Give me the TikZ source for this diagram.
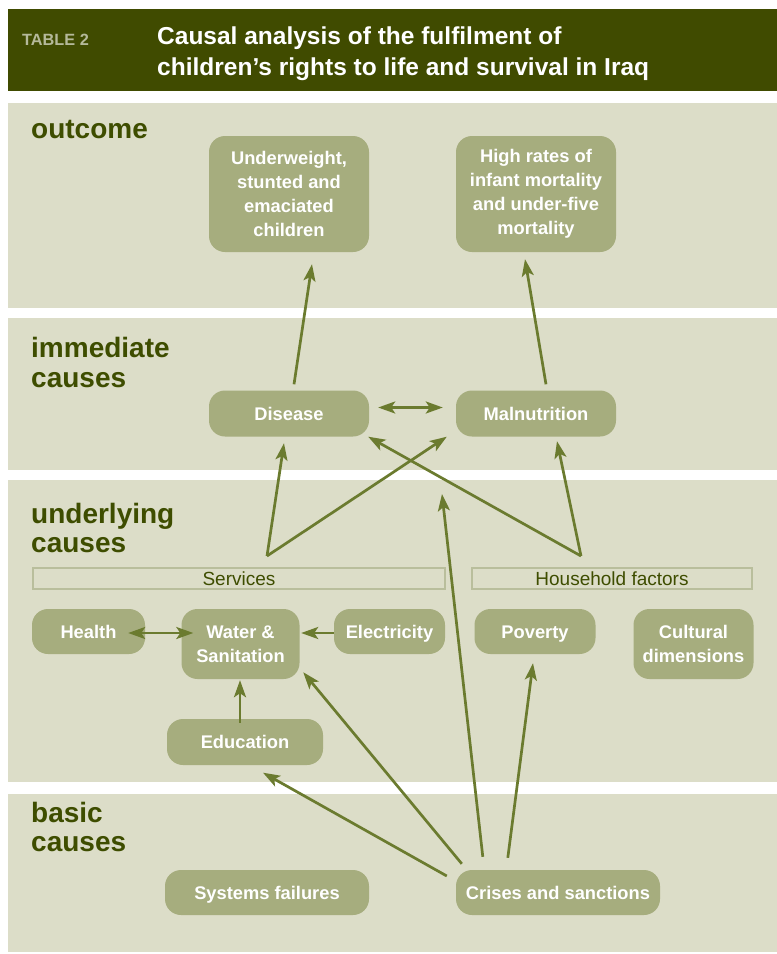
\documentclass[tikz,border=0pt]{standalone}
\usepackage{fontspec}
\setmainfont{Liberation Sans}
\usetikzlibrary{arrows.meta,calc}
\definecolor{hdr}{HTML}{404B00}
\definecolor{band}{HTML}{DCDDC8}
\definecolor{boxf}{HTML}{A6AD7E}
\definecolor{arrc}{HTML}{6B7B2F}
\definecolor{lblc}{HTML}{3E4D00}
\definecolor{tblc}{HTML}{B5B99A}
\definecolor{barc}{HTML}{B9BE9C}
\newcommand{\capbox}[1]{\raisebox{0pt}[13pt][0pt]{#1}}
\tikzset{
  bandbox/.style={fill=band, draw=none},
  cbox/.style={fill=boxf, draw=none, rounded corners=16pt, text=white, align=center,
    font=\fontsize{18.3}{24}\selectfont\bfseries, inner sep=0pt},
  lvl/.style={anchor=base west, text=lblc, font=\fontsize{28}{30}\selectfont\bfseries, inner sep=0pt},
  barbox/.style={draw=barc, line width=1.2pt, fill=band, inner sep=0pt,
    font=\fontsize{19}{20}\selectfont, text=lblc},
  arr/.style={draw=arrc, line width=2.7pt, -{Stealth[length=17pt,width=12pt,inset=4pt]}},
  darr/.style={draw=arrc, line width=2.7pt, {Stealth[length=17pt,width=12pt,inset=4pt]}-{Stealth[length=17pt,width=12pt,inset=4pt]}},
}
\begin{document}
\begin{tikzpicture}[x=1pt,y=-1pt]
\useasboundingbox (0,0) rectangle (777,954);
\fill[white] (0,0) rectangle (777,954);
% header
\fill[hdr] (8,9) rectangle (777,91);
\node[anchor=base west, inner sep=0pt, text=tblc, font=\fontsize{16.3}{18}\selectfont\bfseries] (tbl) at (22,45) {TABLE 2};
\node[anchor=base west, inner sep=0pt, text=white, font=\fontsize{24.5}{31}\selectfont\bfseries] (t1) at (157,44) {Causal analysis of the fulfilment of};
\node[anchor=base west, inner sep=0pt, text=white, font=\fontsize{24.5}{31}\selectfont\bfseries] (t2) at (157,75) {children’s rights to life and survival in Iraq};
% bands
\fill[bandbox] (8,103) rectangle (777,308);
\fill[bandbox] (8,318) rectangle (777,470);
\fill[bandbox] (8,480) rectangle (777,782);
\fill[bandbox] (8,794) rectangle (777,952);
% level labels
\node[lvl] (l1) at (31,138) {outcome};
\node[lvl] (l2) at (31,357) {immediate};
\node[lvl] (l2b) at (31,387) {causes};
\node[lvl] (l3) at (31,523) {underlying};
\node[lvl] (l3b) at (31,552) {causes};
\node[lvl] (l4) at (31,822) {basic};
\node[lvl] (l4b) at (31,851) {causes};
% bars
\node[barbox, minimum width=412pt, minimum height=21pt] (svc) at (239,578.5) {Services};
\node[barbox, minimum width=280pt, minimum height=21pt] (hh) at (612,578.5) {Household factors};
% nodes
\node[cbox, minimum width=160pt, minimum height=116pt] (uw) at (289,194) {Underweight,\\stunted and\\emaciated\\children};
\node[cbox, minimum width=160pt, minimum height=116pt] (hr) at (536,194) {High rates of\\infant mortality\\and under-five\\mortality};
\node[cbox, minimum width=160pt, minimum height=46pt] (dis) at (289,413.5) {\capbox{Disease}};
\node[cbox, minimum width=160pt, minimum height=46pt] (mal) at (536,413.5) {\capbox{Malnutrition}};
\node[cbox, minimum width=113pt, minimum height=45pt] (health) at (88.5,631.5) {\capbox{Health}};
\node[cbox, minimum width=118pt, minimum height=70pt] (water) at (240.5,644) {Water \&\\Sanitation};
\node[cbox, minimum width=111pt, minimum height=45pt] (elec) at (389.5,631.5) {\capbox{Electricity}};
\node[cbox, minimum width=121pt, minimum height=45pt] (pov) at (535,631.5) {\capbox{Poverty}};
\node[cbox, minimum width=120pt, minimum height=70pt] (cult) at (693.5,644) {Cultural\\dimensions};
\node[cbox, minimum width=156pt, minimum height=46pt] (edu) at (245,742) {\capbox{Education}};
\node[cbox, minimum width=204pt, minimum height=45pt] (sys) at (267,892.5) {\capbox{Systems failures}};
\node[cbox, minimum width=204pt, minimum height=45pt] (cri) at (558,892.5) {\capbox{Crises and sanctions}};
% split points
\coordinate (svcsplit) at (267,556);
\coordinate (hhsplit) at (581,556);
\coordinate (midend) at (442,494);
% connectors
\draw[arr] ($(dis.north)+(5,-6)$) -- ($(uw.south)+(23,12)$);
\draw[arr] ($(mal.north)+(10,-6)$) -- ($(hr.south)+(-11,7)$);
\draw[darr] ($(dis.east)+(9,-6)$) -- ($(mal.west)+(-13,-6)$);
\draw[arr] (svcsplit) -- ($(dis.south)+(-5,6.5)$);
\draw[arr] (svcsplit) -- ($(mal.south west)+(-9,0)$);
\draw[arr] (hhsplit) -- ($(mal.south)+(21,4.5)$);
\draw[arr] (hhsplit) -- ($(dis.south east)+(-1,0)$);
\draw[darr] ($(health.east)+(-17,1.5)$) -- ($(water.west)+(12,-11)$);
\draw[arr] ($(elec.west)+(0,1.5)$) -- ($(water.east)+(1.5,-11)$);
\draw[arr] ($(edu.north)+(-5,4)$) -- ($(water.south)+(-0.5,1)$);
\draw[arr] ($(cri.west)+(-9,-16.5)$) -- ($(edu.south)+(18,7.5)$);
\draw[arr] ($(cri.north west)+(6,-6)$) -- ($(water.south east)+(3.5,-7)$);
\draw[arr] ($(cri.north west)+(27,-13)$) -- (midend);
\draw[arr] ($(cri.north west)+(52,-12)$) -- ($(pov.south)+(-2,9)$);
\end{tikzpicture}
\end{document}
